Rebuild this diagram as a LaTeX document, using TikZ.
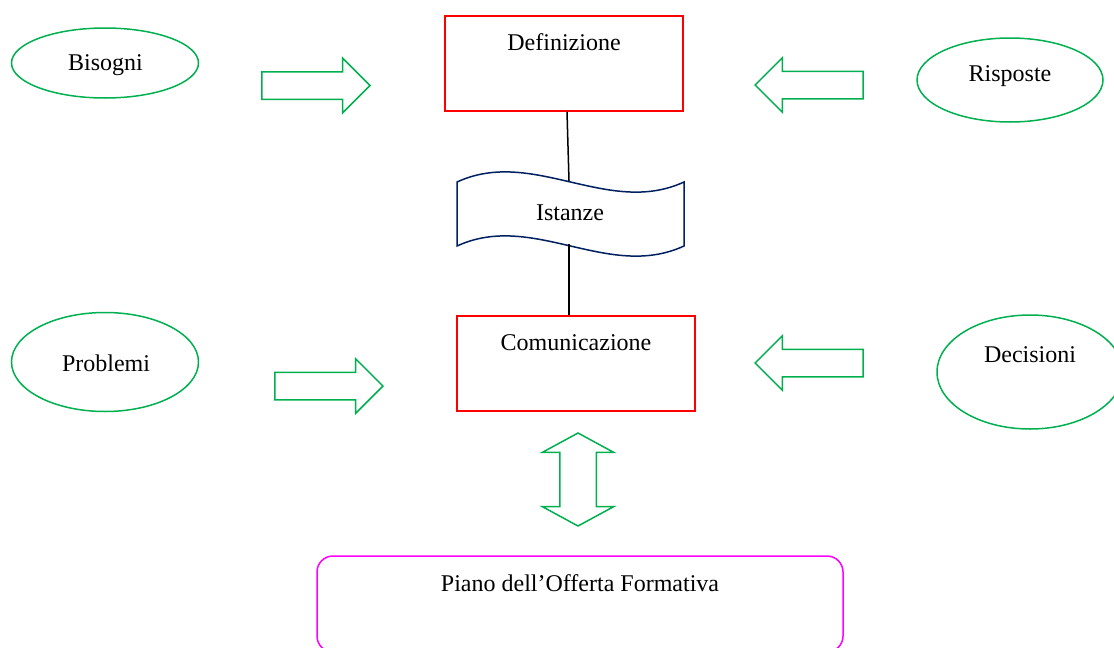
\documentclass[tikz,border=0pt]{standalone}
\usepackage{fontspec}
\setmainfont{Liberation Serif}
\usetikzlibrary{shapes.geometric, shapes.arrows}

\definecolor{offgreen}{RGB}{0,176,80}
\definecolor{tapeblue}{RGB}{0,32,96}
\definecolor{pofpink}{RGB}{255,0,255}

\begin{document}
\begin{tikzpicture}[x=1pt, y=-1pt,
		every node/.style={font=\fontsize{24}{29}\selectfont},
		oval/.style={ellipse, draw=offgreen, line width=1.5pt, inner sep=0pt},
		redbox/.style={rectangle, draw=red, line width=1.5pt, minimum width=238pt, minimum height=95pt},
		fatarrow/.style={single arrow, draw=offgreen, line width=1.5pt, inner xsep=0pt, inner ysep=13pt,
			minimum height=108pt, minimum width=53pt, single arrow head extend=13.5pt, single arrow tip angle=90},
		fatdouble/.style={double arrow, draw=offgreen, line width=1.5pt, inner xsep=17.5pt, inner ysep=0pt,
			minimum height=93pt, minimum width=70pt, double arrow head extend=17.5pt, double arrow tip angle=123}]
			\clip (0,0) rectangle (1114,648);
			
			% Ellipses
			\node[oval, minimum width=187pt, minimum height=70pt] (bis) at (105,63) {};
			\node[oval, minimum width=186pt, minimum height=84pt] (ris) at (1010,80) {};
			\node[oval, minimum width=187pt, minimum height=99pt] (pro) at (105,362) {};
			\node[oval, minimum width=186pt, minimum height=114pt] (dec) at (1030,372) {};
			
			% Boxes
			\node[redbox] (def) at (564,63.5) {};
			\node[redbox] (com) at (576,363.5) {};
			\node[rounded corners=16pt, rectangle, draw=pofpink, line width=1.5pt, minimum width=526pt, minimum height=96pt] (pof) at (580,604) {};
			
			% Wave shape
			\draw[tapeblue, line width=1.5pt, fill=white] (457,182) .. controls (533,147) and (608,217) .. (684,182)
				-- (684,246) .. controls (608,281) and (533,211) .. (457,246) -- cycle;
			\coordinate (insttop) at (569,181);
			\coordinate (instbot) at (569,244);
			
			% Texts
			\node[anchor=base] (bistxt) at (105.5,70) {Bisogni};
			\node[anchor=base] (ristxt) at (1010,81) {Risposte};
			\node[anchor=base] (protxt) at (106,371) {Problemi};
			\node[anchor=base] (dectxt) at (1030,362) {Decisioni};
			\node[anchor=base] (deftxt) at (564,50) {Definizione};
			\node[anchor=base] (comtxt) at (576,350) {Comunicazione};
			\node[anchor=base] (insttxt) at (570,220) {Istanze};
			\node[anchor=base] (poftxt) at (580,591) {Piano dell’Offerta Formativa};
			
			% Block arrows
			\node[fatarrow, anchor=tip] (arrbis) at (371,85.5) {};
			\node[fatarrow, shape border rotate=180, anchor=tip] (arrris) at (754,85) {};
			\node[fatarrow, anchor=tip] (arrpro) at (384,386) {};
			\node[fatarrow, shape border rotate=180, anchor=tip] (arrdec) at (754,363) {};
			\node[fatdouble, shape border rotate=90] (arrpof) at (578,479.5) {};
			
			% Connect with straight lines
			\draw[line width=1.5pt] ([xshift=3pt]def.south) -- (insttop);
			\draw[line width=1.5pt] (instbot) -- (insttop |- com.north);
		\end{tikzpicture}
\end{document}
